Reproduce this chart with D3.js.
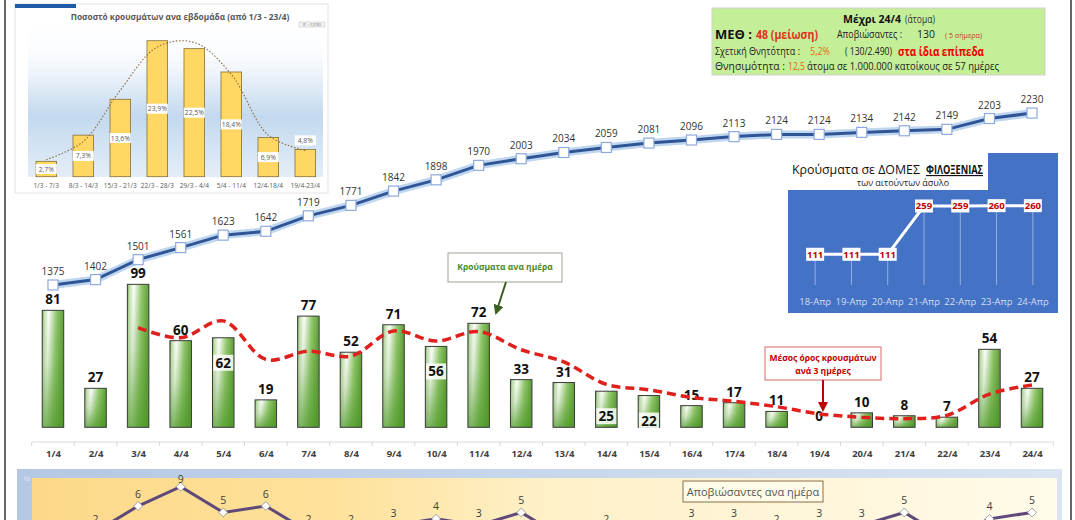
<!DOCTYPE html>
<html lang="el">
<head>
<meta charset="UTF-8">
<title>Κρούσματα ανα ημέρα</title>
<script src="https://cdn.jsdelivr.net/npm/d3@7"></script>
<style>
  body { margin: 0; background: #fff; }
  svg { display: block; font-family: "Open Sans", "Noto Sans", sans-serif; }
</style>
</head>
<body>
<div id="chart"></div>
<script>
// ---- data ----
const days = ["1/4","2/4","3/4","4/4","5/4","6/4","7/4","8/4","9/4","10/4","11/4","12/4",
              "13/4","14/4","15/4","16/4","17/4","18/4","19/4","20/4","21/4","22/4","23/4","24/4"];
const dailyCases = [81,27,99,60,62,19,77,52,71,56,72,33,31,25,22,15,17,11,0,10,8,7,54,27];
const totalCases = [1375,1402,1501,1561,1623,1642,1719,1771,1842,1898,1970,2003,
                    2034,2059,2081,2096,2113,2124,2124,2134,2142,2149,2203,2230];
// 3-day average (red dashed), no value for the first two days
const avg3 = [null,null,69,62,73.7,47,52.7,49.3,66.7,59.7,66.3,53.7,45.3,29.7,26,20.7,18,14.3,9.3,7,6,8.3,23,29.3];
const deaths = [1,2,6,9,5,6,2,2,3,4,3,5,1,2,1,3,3,2,3,3,5,1,4,5];
const insideLabelDays = ["5/4","10/4","14/4","15/4"];

const weeks = ["1/3 - 7/3","8/3 - 14/3","15/3 - 21/3","22/3 - 28/3","29/3 - 4/4","5/4 - 11/4","12/4-18/4","19/4-23/4"];
const weekShare = [2.7,7.3,13.6,23.9,22.5,18.4,6.9,4.8];
const weekTrend = [3.0,6.2,15.2,22.8,23.6,18.0,7.3,4.6];
const labelAboveWeeks = ["19/4-23/4"];

const campDays = ["18-Απρ","19-Απρ","20-Απρ","21-Απρ","22-Απρ","23-Απρ","24-Απρ"];
const campCases = [111,111,111,259,259,260,260];

const W = 1075, H = 520;
const svg = d3.select("#chart").append("svg").attr("width", W).attr("height", H);
const defs = svg.append("defs");

function linGrad(id, x2, y2, stops) {
  const g = defs.append("linearGradient").attr("id", id)
    .attr("x1", 0).attr("y1", 0).attr("x2", x2).attr("y2", y2);
  stops.forEach(s => g.append("stop").attr("offset", s[0]).attr("stop-color", s[1])
    .attr("stop-opacity", s[2] === undefined ? 1 : s[2]));
}
linGrad("barGrad", 1, 0.15, [[0,"#6aa844"],[0.1,"#c4e0b0"],[0.3,"#ffffff"],[0.65,"#93c86e"],[1,"#5b9d35"]]);
linGrad("barShade", 0, 1, [[0,"#5b9d35",0],[0.45,"#5b9d35",0.22],[1,"#4f9a2a",0.75]]);
linGrad("insetBg", 0, 1, [[0,"#ffffff"],[0.25,"#f7fafd"],[0.6,"#c3d9ef"],[1,"#e4eef8"]]);
linGrad("panelOuter", 1, 0, [[0,"#b4c8e4"],[1,"#dbe5f2"]]);
linGrad("panelInner", 1, 0, [[0,"#fdd889"],[0.3,"#fee29c"],[0.5,"#fff0c8"],[1,"#fffbea"]]);

["green","red"].forEach((n, i) => {
  defs.append("marker").attr("id", "arrow-" + n)
    .attr("viewBox", "0 0 10 10").attr("refX", 8).attr("refY", 5)
    .attr("markerWidth", 5).attr("markerHeight", 5).attr("orient", "auto")
    .append("path").attr("d", "M0,0L10,5L0,10Z").attr("fill", i ? "#c00000" : "#3b5e23");
});

// frame lines
svg.append("line").attr("x1", 5).attr("x2", 5).attr("y1", 0).attr("y2", H).attr("stroke", "#333").attr("stroke-width", 1.5);
svg.append("line").attr("x1", 1071).attr("x2", 1071).attr("y1", 0).attr("y2", H).attr("stroke", "#333").attr("stroke-width", 1.5);

// ---- main chart scales ----
const x = d3.scalePoint().domain(days).range([31.7, 1053.3]).padding(0.5);
const step = x.step();
const yBar = d3.scaleLinear().domain([0, 100]).range([427.3, 282.9]);
const yTot = d3.scaleLinear().domain([1000, 2500]).range([360.4, 58.8]);

// x axis
svg.append("line").attr("x1", 31.7).attr("x2", 1053.3).attr("y1", 442).attr("y2", 442)
  .attr("stroke", "#d9d9d9");
svg.append("g").selectAll("line").data(d3.range(days.length + 1)).join("line")
  .attr("x1", i => 31.7 + i * step).attr("x2", i => 31.7 + i * step)
  .attr("y1", 442).attr("y2", 446).attr("stroke", "#d9d9d9");
const xAxis = svg.append("g").attr("transform", "translate(0,442)")
  .call(d3.axisBottom(x).tickSize(0).tickPadding(8));
xAxis.select(".domain").remove();
xAxis.selectAll("text").attr("font-family", "Open Sans, sans-serif")
  .attr("font-size", 9.5).attr("font-weight", "bold").attr("fill", "#404040");

// cumulative line
const totLine = d3.line().x((d, i) => x(days[i])).y(d => yTot(d));
svg.append("path").datum(totalCases).attr("d", totLine)
  .attr("fill", "none").attr("stroke", "#a9c8ea").attr("stroke-width", 8).attr("opacity", 0.75);
svg.append("path").datum(totalCases).attr("d", totLine)
  .attr("fill", "none").attr("stroke", "#2f5597").attr("stroke-width", 3);
svg.append("g").selectAll("rect").data(totalCases).join("rect")
  .attr("x", (d, i) => x(days[i]) - 5).attr("y", d => yTot(d) - 5)
  .attr("width", 10).attr("height", 10)
  .attr("fill", "#fff").attr("stroke", "#8faadc").attr("stroke-width", 1.2);
svg.append("g").selectAll("text").data(totalCases).join("text")
  .attr("x", (d, i) => x(days[i])).attr("y", d => yTot(d) - 10)
  .attr("text-anchor", "middle").attr("font-size", 10).attr("fill", "#333")
  .text(d => d);

// daily bars (horizontal sheen + vertical shading)
const bw = 21.5;
["url(#barGrad)", "url(#barShade)"].forEach((fill, k) => {
  svg.append("g").selectAll("rect").data(dailyCases).join("rect")
    .attr("x", (d, i) => x(days[i]) - bw / 2).attr("y", d => yBar(d))
    .attr("width", bw).attr("height", d => yBar(0) - yBar(d))
    .attr("fill", fill).attr("stroke", k ? "#3a3a3a" : "none").attr("stroke-width", 1);
});

const barLabels = svg.append("g");
dailyCases.forEach((d, i) => {
  const cx = x(days[i]);
  if (insideLabelDays.includes(days[i])) {
    const by = yBar(d) + 30;
    barLabels.append("rect").attr("x", cx - 10).attr("y", by - 13).attr("width", 20).attr("height", 16)
      .attr("fill", "#fff").attr("opacity", 0.85);
    barLabels.append("text").attr("x", cx).attr("y", by).attr("text-anchor", "middle")
      .attr("font-size", 13.5).attr("font-weight", "bold").attr("fill", "#111").text(d);
  } else {
    barLabels.append("text").attr("x", cx).attr("y", yBar(d) - 6).attr("text-anchor", "middle")
      .attr("font-size", 13.5).attr("font-weight", "bold").attr("fill", "#111").text(d);
  }
});

// 3-day average
svg.append("path").datum(avg3)
  .attr("d", d3.line().defined(d => d !== null).x((d, i) => x(days[i])).y(d => yBar(d))
    .curve(d3.curveCatmullRom.alpha(0.5)))
  .attr("fill", "none").attr("stroke", "#e0201c").attr("stroke-width", 3.5)
  .attr("stroke-dasharray", "9,5");

// annotations
svg.append("rect").attr("x", 448).attr("y", 253).attr("width", 114).attr("height", 29)
  .attr("fill", "#fff").attr("stroke", "#9aa58f");
svg.append("text").attr("x", 505).attr("y", 270).attr("text-anchor", "middle")
  .attr("font-size", 8.5).attr("font-weight", "bold").attr("fill", "#4e8a2e").text("Κρούσματα ανα ημέρα");
svg.append("line").attr("x1", 506).attr("y1", 282).attr("x2", 496).attr("y2", 313)
  .attr("stroke", "#3b5e23").attr("stroke-width", 2).attr("marker-end", "url(#arrow-green)");

svg.append("rect").attr("x", 765).attr("y", 347).attr("width", 116).attr("height", 33)
  .attr("fill", "#fff").attr("stroke", "#d66a6a");
svg.append("text").attr("x", 823).attr("y", 360.5).attr("text-anchor", "middle")
  .attr("font-size", 8.5).attr("font-weight", "bold").attr("fill", "#c00000").text("Μέσος όρος κρουσμάτων");
svg.append("text").attr("x", 823).attr("y", 373.5).attr("text-anchor", "middle")
  .attr("font-size", 8.5).attr("font-weight", "bold").attr("fill", "#c00000").text("ανά 3 ημέρες");
svg.append("line").attr("x1", 823).attr("y1", 380).attr("x2", 823).attr("y2", 410)
  .attr("stroke", "#c00000").attr("stroke-width", 2).attr("marker-end", "url(#arrow-red)");

// ---- inset: weekly share ----
const inset = svg.append("g");
inset.append("rect").attr("x", 15).attr("y", 4).attr("width", 313).attr("height", 189)
  .attr("fill", "#fff").attr("stroke", "#e2e2e2");
inset.append("rect").attr("x", 15).attr("y", 4).attr("width", 61).attr("height", 4).attr("fill", "#1f5aa6");
inset.append("rect").attr("x", 28).attr("y", 25).attr("width", 295).attr("height", 152).attr("fill", "url(#insetBg)");
inset.append("line").attr("x1", 28).attr("x2", 323).attr("y1", 63).attr("y2", 63).attr("stroke", "#edf2f8");
inset.append("text").attr("x", 180).attr("y", 20).attr("text-anchor", "middle")
  .attr("font-size", 8.3).attr("font-weight", "bold").attr("fill", "#595959")
  .text("Ποσοστό κρουσμάτων ανα εβδομάδα (από 1/3 - 23/4)");
inset.append("rect").attr("x", 299).attr("y", 22).attr("width", 26).attr("height", 5)
  .attr("fill", "#f2f2f2").attr("stroke", "#bfbfbf").attr("stroke-width", 0.5);
inset.append("text").attr("x", 312).attr("y", 26).attr("text-anchor", "middle")
  .attr("font-size", 3.5).attr("fill", "#777").text("R² = 0,9783");

const xw = d3.scalePoint().domain(weeks).range([27.8, 323.8]).padding(0.5);
const yw = d3.scaleLinear().domain([0, 26.66]).range([176.7, 25]);
const fmtPct = v => v.toFixed(1).replace(".", ",") + "%";

inset.append("g").selectAll("rect").data(weekShare).join("rect")
  .attr("x", (d, i) => xw(weeks[i]) - 10.3).attr("y", d => yw(d))
  .attr("width", 20.6).attr("height", d => yw(0) - yw(d))
  .attr("fill", "#ffd762").attr("stroke", "#857035").attr("stroke-width", 0.8);

inset.append("path").datum(weekTrend)
  .attr("d", d3.line().x((d, i) => xw(weeks[i])).y(d => yw(d)).curve(d3.curveCatmullRom.alpha(0.5)))
  .attr("fill", "none").attr("stroke", "#8b6a3e").attr("stroke-width", 1.1).attr("stroke-dasharray", "1.5,1.8");

weekShare.forEach((d, i) => {
  const cx = xw(weeks[i]);
  const cy = labelAboveWeeks.includes(weeks[i]) ? yw(d) - 9 : (yw(d) + yw(0)) / 2;
  inset.append("rect").attr("x", cx - 10.5).attr("y", cy - 5).attr("width", 21).attr("height", 10).attr("fill", "#fff");
  inset.append("text").attr("x", cx).attr("y", cy + 2.5).attr("text-anchor", "middle")
    .attr("font-size", 6.8).attr("fill", "#595959").text(fmtPct(d));
});
inset.append("g").selectAll("text").data(weeks).join("text")
  .attr("x", d => xw(d)).attr("y", 187.5).attr("text-anchor", "middle")
  .attr("font-size", 6.6).attr("fill", "#595959").text(d => d);

// ---- stats box ----
const stats = svg.append("g");
stats.append("rect").attr("x", 712).attr("y", 8).attr("width", 333).attr("height", 67)
  .attr("fill", "#c5ee98").attr("stroke", "#d0d0d0");
function seg(g, tx, ty, str, size, color, bold, len) {
  const t = g.append("text").attr("x", tx).attr("y", ty).attr("font-size", size)
    .attr("fill", color).attr("font-weight", bold ? "bold" : "normal").text(str);
  if (len) t.attr("textLength", len).attr("lengthAdjust", "spacingAndGlyphs");
  return t;
}
seg(stats, 843, 23, "Μέχρι 24/4", 10, "#111", true, 58);
seg(stats, 905, 23, "(άτομα)", 10, "#333", false, 30);
seg(stats, 715, 39, "ΜΕΘ :", 12.5, "#111", true, 37);
seg(stats, 756, 39, "48 (μείωση)", 12.5, "#e0301e", true, 62);
seg(stats, 837, 38, "Αποβιώσαντες :", 10, "#222", false, 65);
seg(stats, 917, 38, "130", 10, "#222", false, 18);
seg(stats, 945, 38, "( 5 σήμερα)", 7, "#c0392b", false, 37);
seg(stats, 715, 55, "Σχετική Θνητότητα :", 10, "#222", false, 85);
seg(stats, 810, 55, "5,2%", 10, "#e26b0a", false, 20);
seg(stats, 845, 55, "( 130/2.490)", 10, "#222", false, 47);
seg(stats, 898, 56, "στα ίδια επίπεδα", 13, "#f00000", true, 86);
seg(stats, 715, 70, "Θνησιμότητα :", 10, "#222", false, 70);
seg(stats, 788, 70, "12,5", 10, "#e26b0a", false, 17);
seg(stats, 807, 70, "άτομα σε 1.000.000 κατοίκους σε 57 ημέρες", 10, "#222", false, 192);

// ---- camp cases box ----
const camp = svg.append("g");
camp.append("rect").attr("x", 788).attr("y", 153).attr("width", 270).attr("height", 160).attr("fill", "#4472c4");
camp.append("rect").attr("x", 788).attr("y", 153).attr("width", 200).attr("height", 37).attr("fill", "#fff");
seg(camp, 792, 174, "Κρούσματα σε ΔΟΜΕΣ", 12.5, "#111", false, 128);
seg(camp, 926, 174, "ΦΙΛΟΞΕΝΙΑΣ", 11.5, "#111", true, 57).attr("text-decoration", "underline");
camp.append("text").attr("x", 903).attr("y", 186).attr("text-anchor", "middle")
  .attr("font-size", 9).attr("fill", "#222").text("των αιτούντων άσυλο");

const xc = d3.scalePoint().domain(campDays).range([797, 1051]).padding(0.5);
const yc = d3.scaleLinear().domain([0, 300]).range([290.5, 192.6]);
camp.append("g").selectAll("line").data(campCases).join("line")
  .attr("x1", (d, i) => xc(campDays[i])).attr("x2", (d, i) => xc(campDays[i]))
  .attr("y1", d => yc(d)).attr("y2", 285).attr("stroke", "#aabfe6").attr("stroke-width", 1).attr("opacity", 0.8);
camp.append("path").datum(campCases)
  .attr("d", d3.line().x((d, i) => xc(campDays[i])).y(d => yc(d)))
  .attr("fill", "none").attr("stroke", "#fff").attr("stroke-width", 3);
camp.append("g").selectAll("rect").data(campCases).join("rect")
  .attr("x", (d, i) => xc(campDays[i]) - 9).attr("y", d => yc(d) - 6.5)
  .attr("width", 18).attr("height", 13).attr("fill", "#fff");
camp.append("g").selectAll("text").data(campCases).join("text")
  .attr("x", (d, i) => xc(campDays[i])).attr("y", d => yc(d) + 3.5).attr("text-anchor", "middle")
  .attr("font-size", 9.5).attr("font-weight", "bold").attr("fill", "#c00000").text(d => d);
camp.append("g").selectAll("text.lab").data(campDays).join("text")
  .attr("x", d => xc(d)).attr("y", 304.5).attr("text-anchor", "middle")
  .attr("font-size", 9.5).attr("fill", "#d4def2").text(d => d);

// ---- deaths panel ----
const panel = svg.append("g");
panel.append("rect").attr("x", 17).attr("y", 469).attr("width", 1045).attr("height", 60).attr("fill", "url(#panelOuter)");
panel.append("rect").attr("x", 32).attr("y", 478).attr("width", 1025).attr("height", 50).attr("fill", "url(#panelInner)");
panel.append("text").attr("x", 23).attr("y", 481).attr("font-size", 6).attr("fill", "#eef3fa").text("10");

const yd = d3.scaleLinear().domain([0, 10]).range([544.6, 480.3]);
panel.append("path").datum(deaths)
  .attr("d", d3.line().x((d, i) => x(days[i])).y(d => yd(d)))
  .attr("fill", "none").attr("stroke", "#5f497a").attr("stroke-width", 3);
panel.append("g").selectAll("path").data(deaths).join("path")
  .attr("transform", (d, i) => `translate(${x(days[i])},${yd(d)})`)
  .attr("d", "M0,-4.5L4.5,0L0,4.5L-4.5,0Z")
  .attr("fill", "#fff").attr("stroke", "#8c8c8c").attr("stroke-width", 0.8);
panel.append("g").selectAll("text").data(deaths).join("text")
  .attr("x", (d, i) => x(days[i])).attr("y", d => Math.max(yd(d) - 8.5, 483))
  .attr("text-anchor", "middle").attr("font-size", 10.5).attr("fill", "#404040").text(d => d);

panel.append("rect").attr("x", 683).attr("y", 481).attr("width", 140).attr("height", 21)
  .attr("fill", "#fffbe8").attr("stroke", "#8b6f47");
panel.append("text").attr("x", 753).attr("y", 495.5).attr("text-anchor", "middle")
  .attr("font-size", 11).attr("fill", "#555").text("Αποβιώσαντες ανα ημέρα");
</script>
</body>
</html>
